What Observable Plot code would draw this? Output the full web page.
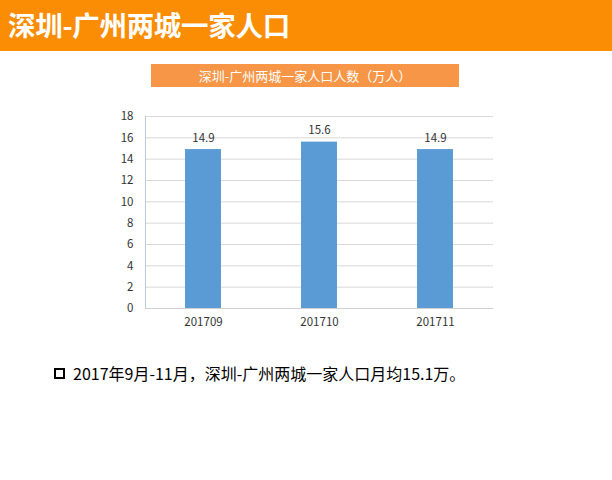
<!DOCTYPE html>
<html><head><meta charset="utf-8">
<script src="https://cdn.jsdelivr.net/npm/d3@7"></script>
<script src="https://cdn.jsdelivr.net/npm/@observablehq/plot@0.6"></script>
<style>
body{margin:0;width:612px;height:480px;background:#fff;position:relative;overflow:hidden;font-family:"Noto Sans CJK SC","Noto Sans",sans-serif;}
#hdr{position:absolute;left:0;top:0;width:612px;height:51px;background:#FA8D04;}
#hdr span{position:absolute;left:8px;top:7px;font-size:27.5px;font-weight:bold;color:#fff;line-height:34px;letter-spacing:-0.3px;}
#ctitle{position:absolute;left:151px;top:64px;width:308px;height:23px;background:#F79646;color:#fff;font-size:13px;line-height:23px;text-align:center;}
#chart{position:absolute;left:0;top:100px;}
#note{position:absolute;left:54px;top:362px;font-size:16px;color:#000;line-height:22px;white-space:nowrap;}
#note i{display:inline-block;width:7px;height:7px;border:2.5px solid #000;margin-right:8px;vertical-align:1px;}
</style></head>
<body>
<div id="hdr"><span>深圳-广州两城一家人口</span></div>
<div id="ctitle">深圳-广州两城一家人口人数（万人）</div>
<div id="chart"></div>
<div id="note"><i></i>2017年9月-11月，深圳-广州两城一家人口月均15.1万。</div>
<script>
const months = ["201709","201710","201711"];
const values = [14.9, 15.6, 14.9];
const yTicks = [0,2,4,6,8,10,12,14,16,18];
const data = months.map((m,i)=>({month:m, value:values[i]}));
const plot = Plot.plot({
  width:612, height:240,
  marginLeft:145, marginRight:119, marginTop:16, marginBottom:32,
  style:{fontFamily:"'Noto Sans CJK SC','Noto Sans',sans-serif", fontSize:"11.5px", color:"#333", background:"transparent"},
  x:{domain:months, paddingInner:0.69, paddingOuter:0.345, round:false, label:null},
  y:{domain:[0,18], ticks:yTicks, label:null},
  marks:[
    Plot.gridY(yTicks.filter(d=>d>0), {stroke:"#d9d9d9", strokeOpacity:1}),
    Plot.ruleY([0], {stroke:"#d0d0d0"}),
    Plot.frame({anchor:"left", stroke:"#b8cce0"}),
    Plot.barY(data, {x:"month", y:"value", fill:"#5B9BD5"}),
    Plot.text(data, {x:"month", y:"value", text:d=>d.value.toFixed(1), dy:-8, lineAnchor:"bottom", fill:"#333", fontSize:11.5}),
    Plot.axisY({ticks:yTicks, tickSize:0, tickPadding:12, fontSize:11.5, fill:"#333"}),
    Plot.axisX({tickSize:0, tickPadding:9, fontSize:11.5, fill:"#333"})
  ]
});
document.getElementById("chart").appendChild(plot);
</script>
</body></html>
